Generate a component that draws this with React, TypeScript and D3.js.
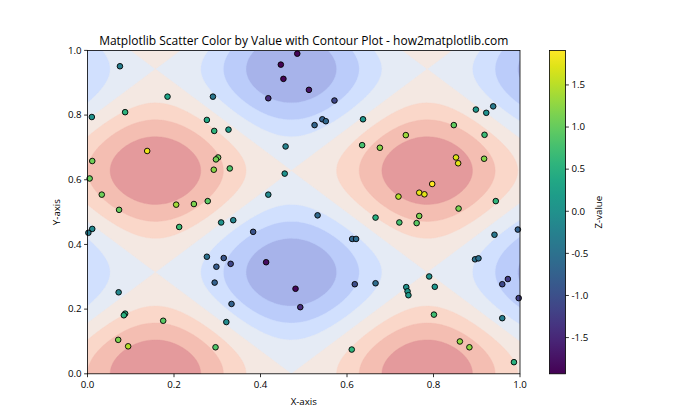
import * as d3 from 'd3'

// scatter points
const X_VALS = [
  0.075, 0.185, 0.290, 0.010, 0.087, 0.276, 0.293, 0.326, 0.138, 0.011,
  0.302, 0.297, 0.329, 0.292, 0.005, 0.033, 0.073, 0.205, 0.246, 0.278,
  0.485, 0.447, 0.453, 0.512, 0.418, 0.571, 0.543, 0.551, 0.525, 0.637,
  0.458, 0.635, 0.456, 0.418, 0.938, 0.898, 0.922, 0.847, 0.736, 0.918,
  0.676, 0.917, 0.852, 0.857, 0.797, 0.767, 0.779, 0.719, 0.944, 0.858,
  0.011, 0.002, 0.212, 0.309, 0.337, 0.276, 0.315, 0.298, 0.331, 0.294,
  0.072, 0.333, 0.087, 0.084, 0.175, 0.321, 0.071, 0.094, 0.296, 0.532,
  0.383, 0.612, 0.621, 0.413, 0.481, 0.492, 0.618, 0.611, 0.666, 0.666,
  0.767, 0.721, 0.761, 0.941, 0.995, 0.896, 0.904, 0.790, 0.737, 0.740,
  0.742, 0.803, 0.972, 0.959, 0.997, 0.959, 0.801, 0.861, 0.883, 0.986,
]
const Y_VALS = [
  0.951, 0.857, 0.857, 0.794, 0.809, 0.785, 0.751, 0.755, 0.689, 0.658,
  0.669, 0.663, 0.635, 0.631, 0.604, 0.554, 0.507, 0.523, 0.525, 0.534,
  0.990, 0.956, 0.912, 0.878, 0.852, 0.845, 0.787, 0.781, 0.769, 0.787,
  0.703, 0.707, 0.619, 0.554, 0.827, 0.817, 0.807, 0.769, 0.738, 0.739,
  0.699, 0.665, 0.669, 0.651, 0.587, 0.560, 0.555, 0.548, 0.534, 0.511,
  0.448, 0.436, 0.454, 0.468, 0.475, 0.362, 0.358, 0.331, 0.340, 0.282,
  0.252, 0.216, 0.186, 0.181, 0.164, 0.160, 0.105, 0.085, 0.082, 0.490,
  0.439, 0.417, 0.417, 0.345, 0.263, 0.206, 0.277, 0.075, 0.483, 0.280,
  0.488, 0.468, 0.466, 0.430, 0.446, 0.354, 0.357, 0.301, 0.268, 0.255,
  0.243, 0.269, 0.293, 0.277, 0.234, 0.172, 0.183, 0.100, 0.082, 0.036,
]
const Z_VALS = [
  -0.31, 0.31, -0.42, 0.01, 0.53, 0.38, 0.55, 0.18, 1.80, 1.07,
  1.04, 1.11, 0.85, 1.22, 1.02, 1.06, 1.02, 1.38, 1.15, 0.94,
  -1.88, -1.93, -1.92, -1.72, -1.48, -1.11, -0.77, -0.65, -0.70, 0.07,
  -0.26, 0.77, 0.01, -0.13, -0.36, 0.12, -0.01, 0.98, 1.34, 0.69,
  1.22, 1.19, 1.70, 1.73, 1.91, 1.76, 1.74, 1.48, 0.57, 1.13,
  -0.12, -0.33, 0.68, 0.02, -0.19, -0.52, -0.91, -0.83, -1.13, -0.75,
  -0.15, -0.74, 0.48, 0.51, 0.92, -0.10, 1.15, 1.47, 0.86, -0.63,
  -0.95, -0.68, -0.59, -1.79, -1.87, -1.45, -1.03, 0.56, 0.49, -0.57,
  1.15, 0.77, 0.92, -0.39, -0.75, -0.47, -0.53, 0.01, -0.01, 0.07,
  0.15, 0.08, -1.27, -1.10, -1.21, -0.31, 0.73, 1.27, 1.24, 0.51,
]

const LEVELS = [-2, -1.5, -1, -0.5, 0, 0.5, 1, 1.5, 2]
const X_TICKS = [0, 0.2, 0.4, 0.6, 0.8, 1.0]
const Y_TICKS = [0, 0.2, 0.4, 0.6, 0.8, 1.0]
const CB_TICKS = [-1.5, -1, -0.5, 0, 0.5, 1, 1.5]

// background surface of the contour plot
const surface = (x: number, y: number) => Math.sin(x * 10) + Math.cos(y * 10)

const COOLWARM = ['#3b4cc0', '#5977e3', '#7b9ff9', '#9ebeff', '#c0d4f5', '#dddcdc',
  '#f2cbb7', '#f7ac8e', '#ee8468', '#d65244', '#b40426']
const coolwarm = d3.interpolateRgbBasis(COOLWARM)
const FONT = '"Open Sans", "Noto Sans", sans-serif'

const W = 700, H = 420
const L = 87.5, T = 50.4, PW = 432.5, PH = 323.4
const CB = { x: 549.5, w: 16 }
const N = 200

export default function App() {
  const xs = d3.scaleLinear().domain([0, 1]).range([L, L + PW])
  const ys = d3.scaleLinear().domain([0, 1]).range([T + PH, T])
  const zExt = d3.extent(Z_VALS) as [number, number]
  const color = d3.scaleSequential(d3.interpolateViridis).domain(zExt)
  const cbY = d3.scaleLinear().domain(zExt).range([T + PH, T])

  // contourf bands, alpha 0.5 on white
  const bandColor = (i: number) => {
    const mid = (LEVELS[i] + LEVELS[i + 1]) / 2
    const t = (mid - LEVELS[0]) / (LEVELS[LEVELS.length - 1] - LEVELS[0])
    return d3.interpolateRgb('#ffffff', coolwarm(t))(0.5)
  }
  const grid: number[] = []
  for (let j = 0; j < N; j++) for (let i = 0; i < N; i++) grid.push(surface(i / (N - 1), j / (N - 1)))
  const contours = d3.contours().size([N, N]).thresholds(LEVELS.slice(1, -1))(grid)
  const gx = (c: number) => xs((c - 0.5) / (N - 1))
  const gy = (c: number) => ys((c - 0.5) / (N - 1))
  const toPath = (mp: d3.ContourMultiPolygon) =>
    mp.coordinates.map((poly) => poly.map((ring) =>
      'M' + ring.map(([a, b]) => `${gx(a)},${gy(b)}`).join('L') + 'Z').join('')).join('')

  const stops = d3.range(0, 1.0001, 0.05)

  return (
    <svg width={W} height={H} style={{ position: 'fixed', left: 0, top: 0, background: '#fff' }} fontFamily={FONT}>
      <defs>
        <clipPath id="plot"><rect x={L} y={T} width={PW} height={PH} /></clipPath>
        <linearGradient id="vir" x1="0" y1="1" x2="0" y2="0">
          {stops.map((s) => <stop key={s} offset={s} stopColor={d3.interpolateViridis(s)} />)}
        </linearGradient>
      </defs>

      <g clipPath="url(#plot)">
        <rect x={L} y={T} width={PW} height={PH} fill={bandColor(0)} />
        {contours.map((c, i) => (
          <path key={i} d={toPath(c)} fill={bandColor(i + 1)} stroke={bandColor(i + 1)} strokeWidth={0.4} />
        ))}
      </g>

      {X_VALS.map((x, i) => (
        <circle key={i} cx={xs(x)} cy={ys(Y_VALS[i])} r={2.8} fill={color(Z_VALS[i])}
          stroke="#000" strokeWidth={0.9} />
      ))}

      <rect x={L} y={T} width={PW} height={PH} fill="none" stroke="#000" strokeWidth={0.8} />

      {X_TICKS.map((t) => (
        <g key={t} transform={`translate(${xs(t)},${T + PH})`}>
          <line y2={3.4} stroke="#000" strokeWidth={0.8} />
          <text y={14.5} textAnchor="middle" fontSize={9.7}>{t.toFixed(1)}</text>
        </g>
      ))}
      {Y_TICKS.map((t) => (
        <g key={t} transform={`translate(${L},${ys(t)})`}>
          <line x2={-3.4} stroke="#000" strokeWidth={0.8} />
          <text x={-6} dy="0.34em" textAnchor="end" fontSize={9.7}>{t.toFixed(1)}</text>
        </g>
      ))}
      <text x={L + PW / 2} y={405} textAnchor="middle" fontSize={9.7}>X-axis</text>
      <text transform={`translate(60,${T + PH / 2}) rotate(-90)`} textAnchor="middle" fontSize={9.7}>Y-axis</text>
      <text x={L + PW / 2} y={44.5} textAnchor="middle" fontSize={12}>
        Matplotlib Scatter Color by Value with Contour Plot - how2matplotlib.com
      </text>

      <rect x={CB.x} y={T} width={CB.w} height={PH} fill="url(#vir)" stroke="#000" strokeWidth={0.8} />
      {CB_TICKS.map((t) => (
        <g key={t} transform={`translate(${CB.x + CB.w},${cbY(t)})`}>
          <line x2={3.4} stroke="#000" strokeWidth={0.8} />
          <text x={6} dy="0.34em" fontSize={9.7}>{t.toFixed(1)}</text>
        </g>
      ))}
      <text transform={`translate(602,${T + PH / 2}) rotate(-90)`} textAnchor="middle" fontSize={9.7}>Z-value</text>
    </svg>
  )
}
